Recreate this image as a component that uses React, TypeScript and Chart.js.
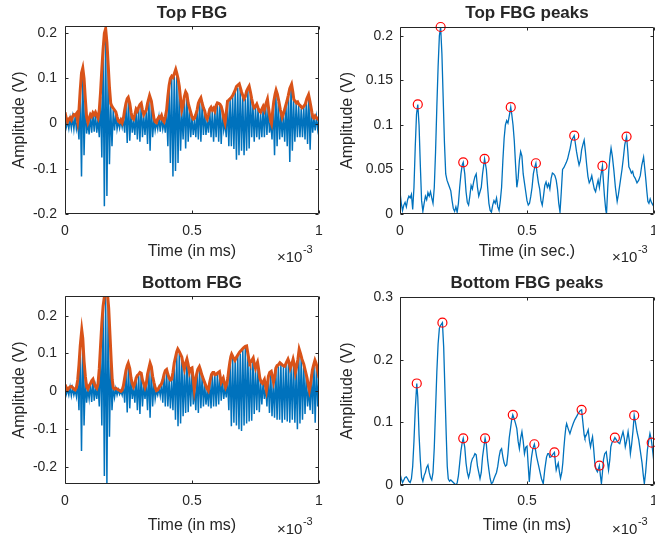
import React, { useEffect, useRef } from "react";
import { Chart, registerables } from "chart.js";

Chart.register(...registerables);

const FONT = '"Liberation Sans", Arial, Helvetica, sans-serif';
const TEXT = "#262626";
const FRAME = "#262626";
const BLUE = "#0072BD";
const ORANGE = "#D95319";
const RED = "#FF0000";
const TICK = 3;

// ---------- axis ticks ----------
const xTickValues = [0, 0.5, 1];
const signalYTicks = [-0.2, -0.1, 0, 0.1, 0.2];
const topPeakYTicks = [0, 0.05, 0.1, 0.15, 0.2];
const bottomPeakYTicks = [0, 0.1, 0.2, 0.3];

// ---------- Top FBG: envelope / peak-trace (time in ms x1e-3, amplitude V) ----------
const topEnvelope: [number, number][] = [
  [0, 0.025], [0.005, 0.012], [0.01, 0.004], [0.015, 0.01], [0.02, 0.013], [0.025, 0.008], [0.03, 0.016], [0.035, 0.02], [0.04, 0.018], [0.045, 0.022],
  [0.05, 0.005], [0.055, 0.03], [0.06, 0.075], [0.065, 0.112], [0.07, 0.123], [0.075, 0.1], [0.08, 0.055], [0.085, 0.015], [0.09, 0.003], [0.095, 0.012],
  [0.1, 0.02], [0.105, 0.016], [0.11, 0.024], [0.115, 0.02], [0.12, 0.025], [0.125, 0.018], [0.13, 0.012], [0.135, 0.03], [0.14, 0.07], [0.145, 0.12],
  [0.15, 0.165], [0.155, 0.2], [0.16, 0.21], [0.165, 0.18], [0.17, 0.13], [0.175, 0.08], [0.18, 0.045], [0.185, 0.038], [0.19, 0.034], [0.195, 0.03],
  [0.2, 0.026], [0.205, 0.015], [0.21, 0.006], [0.215, 0.003], [0.22, 0.008], [0.225, 0.002], [0.23, 0.012], [0.235, 0.03], [0.24, 0.045], [0.245, 0.055],
  [0.249, 0.058], [0.255, 0.045], [0.26, 0.025], [0.265, 0.013], [0.27, 0.01], [0.275, 0.02], [0.28, 0.032], [0.285, 0.028], [0.29, 0.036], [0.295, 0.042],
  [0.3, 0.045], [0.305, 0.03], [0.31, 0.02], [0.315, 0.025], [0.32, 0.03], [0.325, 0.045], [0.333, 0.062], [0.34, 0.05], [0.345, 0.03], [0.35, 0.012],
  [0.355, 0.004], [0.36, 0.002], [0.365, 0.01], [0.37, 0.015], [0.375, 0.012], [0.38, 0.018], [0.385, 0.008], [0.39, 0.004], [0.395, 0.015], [0.4, 0.03],
  [0.405, 0.06], [0.41, 0.085], [0.415, 0.1], [0.42, 0.105], [0.425, 0.102], [0.43, 0.11], [0.436, 0.12], [0.44, 0.112], [0.445, 0.1], [0.45, 0.082],
  [0.455, 0.055], [0.46, 0.03], [0.465, 0.04], [0.47, 0.06], [0.475, 0.07], [0.48, 0.065], [0.485, 0.045], [0.49, 0.035], [0.495, 0.025], [0.5, 0.015],
  [0.505, 0.01], [0.51, 0.012], [0.515, 0.02], [0.52, 0.03], [0.525, 0.045], [0.53, 0.052], [0.535, 0.057], [0.54, 0.045], [0.545, 0.035], [0.55, 0.028],
  [0.555, 0.015], [0.56, 0.01], [0.565, 0.02], [0.57, 0.032], [0.575, 0.036], [0.58, 0.03], [0.585, 0.034], [0.59, 0.028], [0.595, 0.04], [0.6, 0.046],
  [0.605, 0.045], [0.61, 0.043], [0.615, 0.038], [0.62, 0.028], [0.625, 0.012], [0.63, 0.002], [0.635, 0.025], [0.64, 0.05], [0.645, 0.052], [0.65, 0.055],
  [0.655, 0.058], [0.66, 0.062], [0.665, 0.068], [0.67, 0.074], [0.675, 0.082], [0.68, 0.085], [0.686, 0.088], [0.69, 0.08], [0.695, 0.07], [0.7, 0.062],
  [0.705, 0.055], [0.71, 0.06], [0.715, 0.072], [0.72, 0.078], [0.725, 0.083], [0.73, 0.07], [0.735, 0.055], [0.74, 0.042], [0.745, 0.035], [0.75, 0.038],
  [0.755, 0.043], [0.76, 0.035], [0.765, 0.028], [0.77, 0.025], [0.775, 0.032], [0.78, 0.038], [0.785, 0.03], [0.79, 0.042], [0.797, 0.054], [0.8, 0.04],
  [0.805, 0.02], [0.81, 0.005], [0.813, 0.0], [0.818, 0.03], [0.822, 0.049], [0.827, 0.065], [0.831, 0.074], [0.836, 0.065], [0.842, 0.049], [0.848, 0.03],
  [0.855, 0.014], [0.86, 0.022], [0.868, 0.038], [0.874, 0.05], [0.879, 0.062], [0.885, 0.078], [0.892, 0.087], [0.897, 0.07], [0.901, 0.053], [0.906, 0.05],
  [0.911, 0.046], [0.916, 0.048], [0.92, 0.043], [0.926, 0.04], [0.933, 0.035], [0.94, 0.038], [0.946, 0.043], [0.952, 0.055], [0.959, 0.064], [0.964, 0.05],
  [0.968, 0.038], [0.972, 0.025], [0.976, 0.014], [0.98, 0.012], [0.985, 0.017], [0.99, 0.013], [0.996, 0.01], [1.0, 0.008],
];
const topPeakTimes = [0.07, 0.16, 0.249, 0.333, 0.436, 0.535, 0.686, 0.797, 0.892];
const topPeakAmps = [0.123, 0.21, 0.058, 0.062, 0.12, 0.057, 0.088, 0.054, 0.087];

// ---------- Bottom FBG: envelope / peak-trace ----------
const bottomEnvelope: [number, number][] = [
  [0, 0.018], [0.005, 0.01], [0.01, 0.004], [0.015, 0.008], [0.02, 0.012], [0.025, 0.013], [0.03, 0.01], [0.035, 0.006], [0.04, 0.004], [0.045, 0.01],
  [0.05, 0.03], [0.055, 0.07], [0.06, 0.12], [0.066, 0.162], [0.07, 0.14], [0.075, 0.08], [0.08, 0.04], [0.085, 0.012], [0.09, 0.006], [0.095, 0.015],
  [0.1, 0.02], [0.105, 0.028], [0.11, 0.032], [0.115, 0.02], [0.12, 0.012], [0.125, 0.008], [0.13, 0.02], [0.135, 0.06], [0.14, 0.12], [0.145, 0.18],
  [0.15, 0.225], [0.155, 0.25], [0.16, 0.255], [0.167, 0.259], [0.172, 0.22], [0.177, 0.15], [0.182, 0.08], [0.186, 0.03], [0.19, 0.01], [0.195, 0.006],
  [0.2, 0.008], [0.205, 0.006], [0.21, 0.004], [0.215, 0.002], [0.22, 0.0], [0.225, 0.003], [0.23, 0.015], [0.235, 0.035], [0.24, 0.055], [0.245, 0.068],
  [0.249, 0.0745], [0.255, 0.06], [0.26, 0.035], [0.265, 0.02], [0.27, 0.012], [0.275, 0.02], [0.28, 0.035], [0.285, 0.042], [0.29, 0.045], [0.295, 0.05],
  [0.3, 0.048], [0.305, 0.03], [0.31, 0.02], [0.315, 0.01], [0.32, 0.02], [0.325, 0.045], [0.33, 0.06], [0.335, 0.0745], [0.34, 0.065], [0.345, 0.04],
  [0.35, 0.024], [0.355, 0.01], [0.36, 0.002], [0.365, 0.004], [0.37, 0.01], [0.375, 0.015], [0.38, 0.02], [0.385, 0.03], [0.39, 0.045], [0.395, 0.055],
  [0.4, 0.058], [0.405, 0.045], [0.41, 0.035], [0.415, 0.03], [0.42, 0.032], [0.425, 0.05], [0.43, 0.075], [0.435, 0.09], [0.44, 0.105], [0.444, 0.112],
  [0.45, 0.105], [0.455, 0.098], [0.46, 0.09], [0.465, 0.07], [0.47, 0.058], [0.475, 0.075], [0.48, 0.085], [0.485, 0.07], [0.49, 0.05], [0.495, 0.06],
  [0.5, 0.062], [0.505, 0.03], [0.509, 0.005], [0.514, 0.03], [0.518, 0.045], [0.523, 0.058], [0.529, 0.065], [0.534, 0.055], [0.538, 0.045], [0.545, 0.032],
  [0.551, 0.021], [0.557, 0.01], [0.564, 0.002], [0.57, 0.025], [0.577, 0.045], [0.582, 0.05], [0.586, 0.05], [0.59, 0.044], [0.595, 0.045], [0.6, 0.048],
  [0.608, 0.052], [0.612, 0.035], [0.615, 0.024], [0.619, 0.03], [0.623, 0.035], [0.628, 0.02], [0.632, 0.011], [0.637, 0.02], [0.641, 0.035], [0.645, 0.058],
  [0.649, 0.077], [0.653, 0.092], [0.656, 0.098], [0.662, 0.09], [0.669, 0.082], [0.675, 0.09], [0.682, 0.098], [0.688, 0.104], [0.695, 0.109], [0.703, 0.115],
  [0.71, 0.119], [0.715, 0.12], [0.72, 0.1], [0.725, 0.08], [0.728, 0.075], [0.734, 0.08], [0.741, 0.088], [0.746, 0.07], [0.75, 0.061], [0.754, 0.07],
  [0.758, 0.077], [0.762, 0.06], [0.767, 0.035], [0.772, 0.025], [0.777, 0.021], [0.781, 0.026], [0.785, 0.031], [0.789, 0.015], [0.793, 0.002], [0.797, 0.02],
  [0.801, 0.04], [0.806, 0.05], [0.812, 0.053], [0.816, 0.04], [0.821, 0.024], [0.826, 0.04], [0.83, 0.061], [0.835, 0.068], [0.84, 0.07], [0.846, 0.0755],
  [0.852, 0.072], [0.858, 0.068], [0.865, 0.066], [0.871, 0.075], [0.878, 0.085], [0.883, 0.075], [0.887, 0.061], [0.892, 0.07], [0.898, 0.085], [0.903, 0.07],
  [0.907, 0.05], [0.912, 0.065], [0.917, 0.085], [0.922, 0.111], [0.927, 0.1], [0.933, 0.085], [0.94, 0.072], [0.946, 0.055], [0.953, 0.035], [0.958, 0.015],
  [0.962, 0.002], [0.967, 0.02], [0.974, 0.056], [0.979, 0.07], [0.984, 0.082], [0.988, 0.075], [0.991, 0.0675], [0.996, 0.05], [1.0, 0.035],
];
const bottomPeakTimes = [0.066, 0.167, 0.249, 0.335, 0.444, 0.529, 0.608, 0.715, 0.785, 0.846, 0.922, 0.991];
const bottomPeakAmps = [0.162, 0.259, 0.0745, 0.0745, 0.112, 0.065, 0.052, 0.12, 0.031, 0.0755, 0.111, 0.0675];

// ---------- raw FBG signals, sampled every 0.005 (x1e-3 s) ----------
const signalSampleStep = 0.005;
const topSignal = [
  0.018, -0.008, 0.004, -0.011, 0.011, -0.01, 0.014, -0.012, 0.016, -0.012,
  0.004, -0.035, 0.065, -0.117, 0.115, -0.07, 0.05, -0.022, 0.003, -0.024,
  0.018, -0.02, 0.022, -0.018, 0.022, -0.02, 0.01, -0.03, 0.06, -0.075,
  0.15, -0.183, 0.205, -0.16, 0.12, -0.09, 0.04, -0.05, 0.03, -0.015,
  0.022, -0.012, 0.005, -0.01, 0.007, -0.008, 0.01, -0.02, 0.04, -0.043,
  0.055, -0.038, 0.022, -0.02, 0.009, -0.025, 0.028, -0.035, 0.033, -0.04,
  0.042, -0.03, 0.018, -0.025, 0.028, -0.045, 0.058, -0.06, 0.045, -0.03,
  0.01, -0.015, 0.003, -0.012, 0.013, -0.018, 0.015, -0.012, 0.004, -0.02,
  0.028, -0.05, 0.08, -0.087, 0.1, -0.117, 0.105, -0.105, 0.11, -0.087,
  0.08, -0.06, 0.028, -0.035, 0.055, -0.055, 0.06, -0.04, 0.032, -0.03,
  0.014, -0.025, 0.01, -0.03, 0.028, -0.035, 0.05, -0.04, 0.042, -0.025,
  0.025, -0.025, 0.01, -0.02, 0.03, -0.03, 0.028, -0.04, 0.026, -0.03,
  0.044, -0.04, 0.04, -0.045, 0.025, -0.015, 0.002, -0.03, 0.045, -0.05,
  0.052, -0.05, 0.06, -0.056, 0.07, -0.08, 0.08, -0.07, 0.078, -0.06,
  0.058, -0.07, 0.055, -0.06, 0.072, -0.055, 0.065, -0.03, 0.04, -0.04,
  0.035, -0.03, 0.032, -0.035, 0.022, -0.03, 0.035, -0.03, 0.04, -0.025,
  0.038, -0.02, 0.004, -0.035, 0.045, -0.07, 0.07, -0.05, 0.048, -0.035,
  0.02, -0.03, 0.02, -0.04, 0.04, -0.05, 0.06, -0.085, 0.082, -0.06,
  0.05, -0.04, 0.044, -0.03, 0.04, -0.03, 0.033, -0.03, 0.036, -0.035,
  0.05, -0.045, 0.06, -0.058, 0.03, -0.02, 0.012, -0.015, 0.014, -0.012,
  0.009,
];
const bottomSignal = [
  0.015, -0.008, 0.004, -0.01, 0.011, -0.012, 0.009, -0.01, 0.004, -0.014,
  0.028, -0.05, 0.11, -0.158, 0.13, -0.09, 0.035, -0.03, 0.006, -0.02,
  0.018, -0.028, 0.03, -0.025, 0.011, -0.02, 0.018, -0.04, 0.11, -0.09,
  0.21, -0.224, 0.25, -0.243, 0.23, -0.12, 0.08, -0.05, 0.01, -0.016,
  0.007, -0.01, 0.004, -0.008, 0.001, -0.01, 0.014, -0.03, 0.05, -0.056,
  0.07, -0.045, 0.033, -0.02, 0.011, -0.03, 0.033, -0.05, 0.042, -0.06,
  0.046, -0.04, 0.018, -0.02, 0.02, -0.05, 0.058, -0.07, 0.062, -0.04,
  0.022, -0.02, 0.002, -0.01, 0.009, -0.012, 0.019, -0.03, 0.042, -0.04,
  0.055, -0.04, 0.033, -0.045, 0.03, -0.05, 0.07, -0.075, 0.1, -0.092,
  0.1, -0.085, 0.085, -0.066, 0.055, -0.057, 0.08, -0.055, 0.048, -0.04,
  0.058, -0.035, 0.008, -0.05, 0.05, -0.057, 0.062, -0.045, 0.042, -0.04,
  0.02, -0.035, 0.005, -0.04, 0.025, -0.045, 0.046, -0.04, 0.042, -0.04,
  0.045, -0.035, 0.048, -0.025, 0.03, -0.02, 0.012, -0.016, 0.032, -0.05,
  0.075, -0.092, 0.09, -0.083, 0.08, -0.09, 0.095, -0.1, 0.1, -0.105,
  0.11, -0.09, 0.115, -0.085, 0.095, -0.08, 0.072, -0.078, 0.085, -0.06,
  0.058, -0.05, 0.065, -0.055, 0.028, -0.035, 0.024, -0.02, 0.012, -0.04,
  0.038, -0.057, 0.05, -0.066, 0.025, -0.07, 0.058, -0.075, 0.066, -0.075,
  0.07, -0.083, 0.064, -0.075, 0.07, -0.08, 0.08, -0.083, 0.062, -0.075,
  0.08, -0.083, 0.055, -0.1, 0.105, -0.085, 0.09, -0.075, 0.068, -0.06,
  0.045, -0.04, 0.008, -0.05, 0.045, -0.06, 0.075, -0.083, 0.065, -0.04,
  0.035,
];

// ---------- helpers ----------
const pairsToXY = (pairs: [number, number][]) => pairs.map(([x, y]) => ({ x, y }));
const signalToXY = (vals: number[]) => vals.map((y, i) => ({ x: i * signalSampleStep, y }));
const zipXY = (xs: number[], ys: number[]) => xs.map((x, i) => ({ x, y: ys[i] }));
const fmt = (v: number) => String(Math.round(v * 1000) / 1000);

const framePlugin = {
  id: "matlabFrame",
  afterDatasetsDraw(chart: any, _args: any, opts: any) {
    const { ctx, chartArea: a, scales } = chart;
    const L = Math.round(a.left) + 0.5;
    const R = Math.round(a.right) - 0.5;
    const T = Math.round(a.top) + 0.5;
    const B = Math.round(a.bottom) - 0.5;
    ctx.save();
    ctx.strokeStyle = FRAME;
    ctx.lineWidth = 1;
    ctx.beginPath();
    for (const v of opts.xTicks) {
      const px = Math.round(scales.x.getPixelForValue(v)) + 0.5;
      ctx.moveTo(px, B);
      ctx.lineTo(px, B - TICK);
      ctx.moveTo(px, T);
      ctx.lineTo(px, T + TICK);
    }
    for (const v of opts.yTicks) {
      const py = Math.round(scales.y.getPixelForValue(v)) + 0.5;
      ctx.moveTo(L, py);
      ctx.lineTo(L + TICK, py);
      ctx.moveTo(R, py);
      ctx.lineTo(R - TICK, py);
    }
    ctx.rect(L, T, R - L, B - T);
    ctx.stroke();

    ctx.fillStyle = TEXT;
    ctx.font = `bold 17px ${FONT}`;
    ctx.textAlign = "center";
    ctx.textBaseline = "middle";
    ctx.fillText(opts.title, (a.left + a.right) / 2, opts.titleY);

    ctx.font = `15px ${FONT}`;
    ctx.textAlign = "left";
    const ex = a.right - 42;
    ctx.fillText("\u00d710", ex, opts.expY);
    const w = ctx.measureText("\u00d710").width;
    ctx.font = `11px ${FONT}`;
    ctx.fillText("-3", ex + w + 0.5, opts.expY - 8);
    ctx.restore();
  },
};

type PanelSpec = {
  left: number;
  top: number;
  width: number;
  height: number;
  area: { left: number; top: number; right: number; bottom: number };
  yMin: number;
  yMax: number;
  yTicks: number[];
  title: string;
  xTitle: string;
  yTickPad: number;
  yTitlePad: number;
  xTickPad: number;
  xTitlePad: number;
  expY: number;
  datasets: any[];
};

function buildConfig(s: PanelSpec): any {
  return {
    type: "line",
    data: { datasets: s.datasets },
    plugins: [framePlugin],
    options: {
      animation: false,
      responsive: false,
      maintainAspectRatio: false,
      devicePixelRatio: 1,
      events: [],
      layout: {
        padding: { top: s.area.top, right: s.width - s.area.right, left: 0, bottom: 0 },
      },
      elements: { point: { radius: 0 }, line: { tension: 0 } },
      plugins: {
        legend: { display: false },
        tooltip: { enabled: false },
        title: { display: false },
        matlabFrame: {
          title: s.title,
          titleY: 13,
          expY: s.expY,
          xTicks: xTickValues,
          yTicks: s.yTicks,
        },
      },
      scales: {
        x: {
          type: "linear",
          position: "bottom",
          min: 0,
          max: 1,
          grid: { display: false, drawTicks: false },
          border: { display: false },
          ticks: {
            font: { family: FONT, size: 14 },
            color: TEXT,
            padding: s.xTickPad,
            maxRotation: 0,
            autoSkip: false,
            callback: (v: number) => fmt(v),
          },
          afterBuildTicks: (scale: any) => {
            scale.ticks = xTickValues.map((value) => ({ value }));
          },
          afterFit: (scale: any) => {
            scale.height = s.height - s.area.bottom;
            scale.paddingLeft = 0;
            scale.paddingRight = 0;
          },
          title: {
            display: true,
            text: s.xTitle,
            font: { family: FONT, size: 16 },
            color: TEXT,
            padding: { top: 0, bottom: s.xTitlePad },
          },
        },
        y: {
          type: "linear",
          position: "left",
          min: s.yMin,
          max: s.yMax,
          grid: { display: false, drawTicks: false },
          border: { display: false },
          ticks: {
            font: { family: FONT, size: 14 },
            color: TEXT,
            padding: s.yTickPad,
            autoSkip: false,
            callback: (v: number) => fmt(v),
          },
          afterBuildTicks: (scale: any) => {
            scale.ticks = s.yTicks.map((value) => ({ value }));
          },
          afterFit: (scale: any) => {
            scale.width = s.area.left;
            scale.paddingTop = 0;
            scale.paddingBottom = 0;
          },
          title: {
            display: true,
            text: "Amplitude (V)",
            font: { family: FONT, size: 16 },
            color: TEXT,
            padding: { top: s.yTitlePad, bottom: 0 },
          },
        },
      },
    },
  };
}

function Panel({ spec }: { spec: PanelSpec }) {
  const ref = useRef<HTMLCanvasElement | null>(null);
  useEffect(() => {
    if (!ref.current) return;
    const chart = new Chart(ref.current, buildConfig(spec));
    return () => chart.destroy();
  }, []);
  return (
    <canvas
      ref={ref}
      width={spec.width}
      height={spec.height}
      style={{ position: "absolute", left: spec.left, top: spec.top, width: spec.width, height: spec.height }}
    />
  );
}

const signalDatasets = (env: [number, number][], sig: number[]) => [
  {
    data: pairsToXY(env),
    borderColor: ORANGE,
    borderWidth: 3,
    pointRadius: 0,
    fill: false,
  },
  {
    data: signalToXY(sig),
    borderColor: BLUE,
    borderWidth: 1.5,
    pointRadius: 0,
    fill: false,
  },
];

const peakDatasets = (curve: [number, number][], times: number[], amps: number[]) => [
  {
    data: zipXY(times, amps),
    showLine: false,
    pointRadius: 4.5,
    pointBorderWidth: 1.2,
    pointBorderColor: RED,
    pointBackgroundColor: "rgba(0,0,0,0)",
    borderColor: RED,
    clip: false,
  },
  {
    data: pairsToXY(curve),
    borderColor: BLUE,
    borderWidth: 1.3,
    pointRadius: 0,
    fill: false,
  },
];

// right-hand panels are wider than the visible page: the page crops them at x = 655
const panels: PanelSpec[] = [
  {
    left: 0, top: 0, width: 327, height: 270,
    area: { left: 65, top: 26, right: 319, bottom: 214 },
    yMin: -0.2, yMax: 0.216, yTicks: signalYTicks,
    title: "Top FBG", xTitle: "Time (in ms)",
    yTickPad: 8, yTitlePad: 10.4, xTickPad: 8.5, xTitlePad: 8.4, expY: 258,
    datasets: signalDatasets(topEnvelope, topSignal),
  },
  {
    left: 327, top: 0, width: 350, height: 270,
    area: { left: 73, top: 27, right: 327, bottom: 214 },
    yMin: 0, yMax: 0.21, yTicks: topPeakYTicks,
    title: "Top FBG peaks", xTitle: "Time (in sec.)",
    yTickPad: 7, yTitlePad: 11.4, xTickPad: 8.5, xTitlePad: 8.4, expY: 258,
    datasets: peakDatasets(topEnvelope, topPeakTimes, topPeakAmps),
  },
  {
    left: 0, top: 270, width: 327, height: 271,
    area: { left: 65, top: 26, right: 319, bottom: 214 },
    yMin: -0.245, yMax: 0.252, yTicks: signalYTicks,
    title: "Bottom FBG", xTitle: "Time (in ms)",
    yTickPad: 8, yTitlePad: 10.4, xTickPad: 9, xTitlePad: 5.5, expY: 260,
    datasets: signalDatasets(bottomEnvelope, bottomSignal),
  },
  {
    left: 327, top: 270, width: 350, height: 271,
    area: { left: 73, top: 27, right: 327, bottom: 215 },
    yMin: 0, yMax: 0.3, yTicks: bottomPeakYTicks,
    title: "Bottom FBG peaks", xTitle: "Time (in ms)",
    yTickPad: 7, yTitlePad: 11.4, xTickPad: 8, xTitlePad: 5.5, expY: 260,
    datasets: peakDatasets(bottomEnvelope, bottomPeakTimes, bottomPeakAmps),
  },
];

export default function App() {
  return (
    <div
      style={{
        position: "absolute",
        left: 0,
        top: 0,
        width: 655,
        height: 541,
        background: "#ffffff",
        overflow: "hidden",
      }}
    >
      {panels.map((p, i) => (
        <Panel key={i} spec={p} />
      ))}
    </div>
  );
}
